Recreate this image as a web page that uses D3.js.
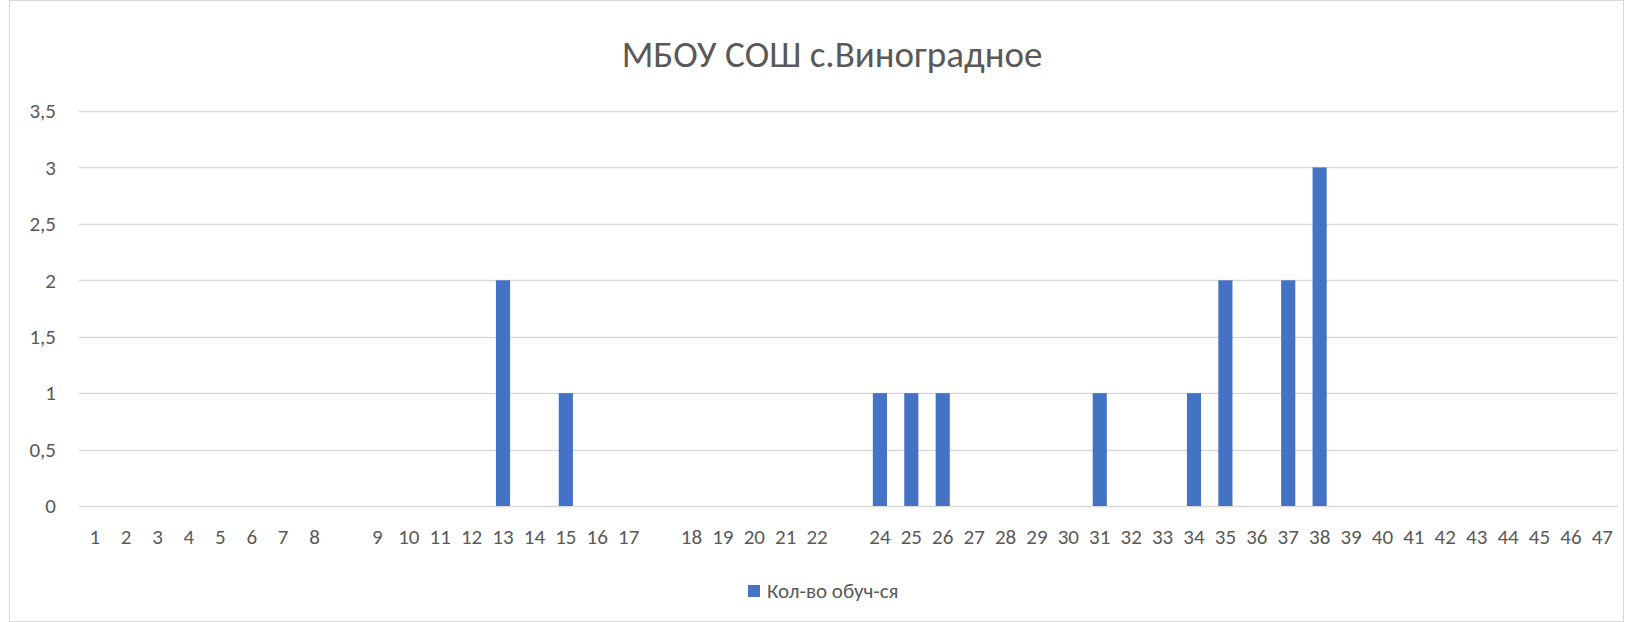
<!DOCTYPE html>
<html>
<head>
<meta charset="utf-8">
<script src="https://cdn.jsdelivr.net/npm/d3@7"></script>
<style>
  body { margin: 0; background: #fff; }
  text { font-family: Carlito, Lato, 'Open Sans', sans-serif; fill: #595959; }
</style>
</head>
<body>
<svg width="1625" height="622"></svg>
<script>
'use strict'

const title = 'МБОУ СОШ с.Виноградное'
const seriesName = 'Кол-во обуч-ся'
// empty strings are blank categories in the source sheet
const categories = ['1','2','3','4','5','6','7','8','','9','10','11','12','13','14','15','16','17','',
    '18','19','20','21','22','','24','25','26','27','28','29','30','31','32','33','34','35','36','37','38',
    '39','40','41','42','43','44','45','46','47']
const values = [0,0,0,0,0,0,0,0,null,0,0,0,0,2,0,1,0,0,null,
    0,0,0,0,0,null,1,1,1,0,0,0,0,1,0,0,1,2,0,2,3,
    0,0,0,0,0,0,0,0,0]
const yTicks = [0, 0.5, 1, 1.5, 2, 2.5, 3, 3.5]

const svg = d3.select('svg')
const width = +svg.attr('width')
const height = +svg.attr('height')
const margin = { top: 111, right: 7, bottom: 116, left: 79 }

svg.append('rect')
    .attr('x', 9.5).attr('y', 0.5)
    .attr('width', width - 11).attr('height', height - 1)
    .attr('fill', '#fff').attr('stroke', '#d9d9d9')

const x = d3.scaleBand()
    .domain(d3.range(categories.length))
    .range([margin.left, width - margin.right])
    .paddingInner(0.55)
    .paddingOuter(0.275)

const y = d3.scaleLinear()
    .domain([0, 3.5])
    .range([height - margin.bottom, margin.top])

const fmt = v => String(v).replace('.', ',')

svg.append('g')
    .attr('class', 'grid')
    .selectAll('line')
    .data(yTicks)
    .enter()
    .append('line')
    .attr('x1', margin.left)
    .attr('x2', width - margin.right)
    .attr('y1', d => Math.round(y(d)) + 0.5)
    .attr('y2', d => Math.round(y(d)) + 0.5)
    .attr('stroke', '#d9d9d9')
    .attr('stroke-width', 1.3)

const yAxis = svg.append('g')
    .attr('transform', `translate(${margin.left - 20},0)`)
    .call(d3.axisLeft(y).tickValues(yTicks).tickFormat(fmt).tickSize(0))
yAxis.select('.domain').remove()
yAxis.selectAll('text').attr('font-size', 21).attr('fill', '#595959')

svg.append('g')
    .selectAll('rect')
    .data(values.map((v, i) => ({ i, v })).filter(d => d.v))
    .enter()
    .append('rect')
    .attr('x', d => x(d.i))
    .attr('width', x.bandwidth())
    .attr('y', d => y(d.v))
    .attr('height', d => y(0) - y(d.v))
    .attr('fill', '#4472c4')

const xAxis = svg.append('g')
    .attr('transform', `translate(0,${height - margin.bottom})`)
    .call(d3.axisBottom(x).tickFormat(i => categories[i]).tickSize(0).tickPadding(23))
xAxis.select('.domain').remove()
xAxis.selectAll('text').attr('font-size', 21).attr('fill', '#595959')

svg.append('text')
    .attr('x', 832)
    .attr('y', 67)
    .attr('text-anchor', 'middle')
    .attr('font-size', 37)
    .text(title)

const legend = svg.append('g').attr('transform', 'translate(748,591)')
legend.append('rect')
    .attr('x', 0).attr('y', -6)
    .attr('width', 12).attr('height', 12)
    .attr('fill', '#4472c4')
legend.append('text')
    .attr('x', 19).attr('y', 7)
    .attr('font-size', 21)
    .text(seriesName)
</script>
</body>
</html>
